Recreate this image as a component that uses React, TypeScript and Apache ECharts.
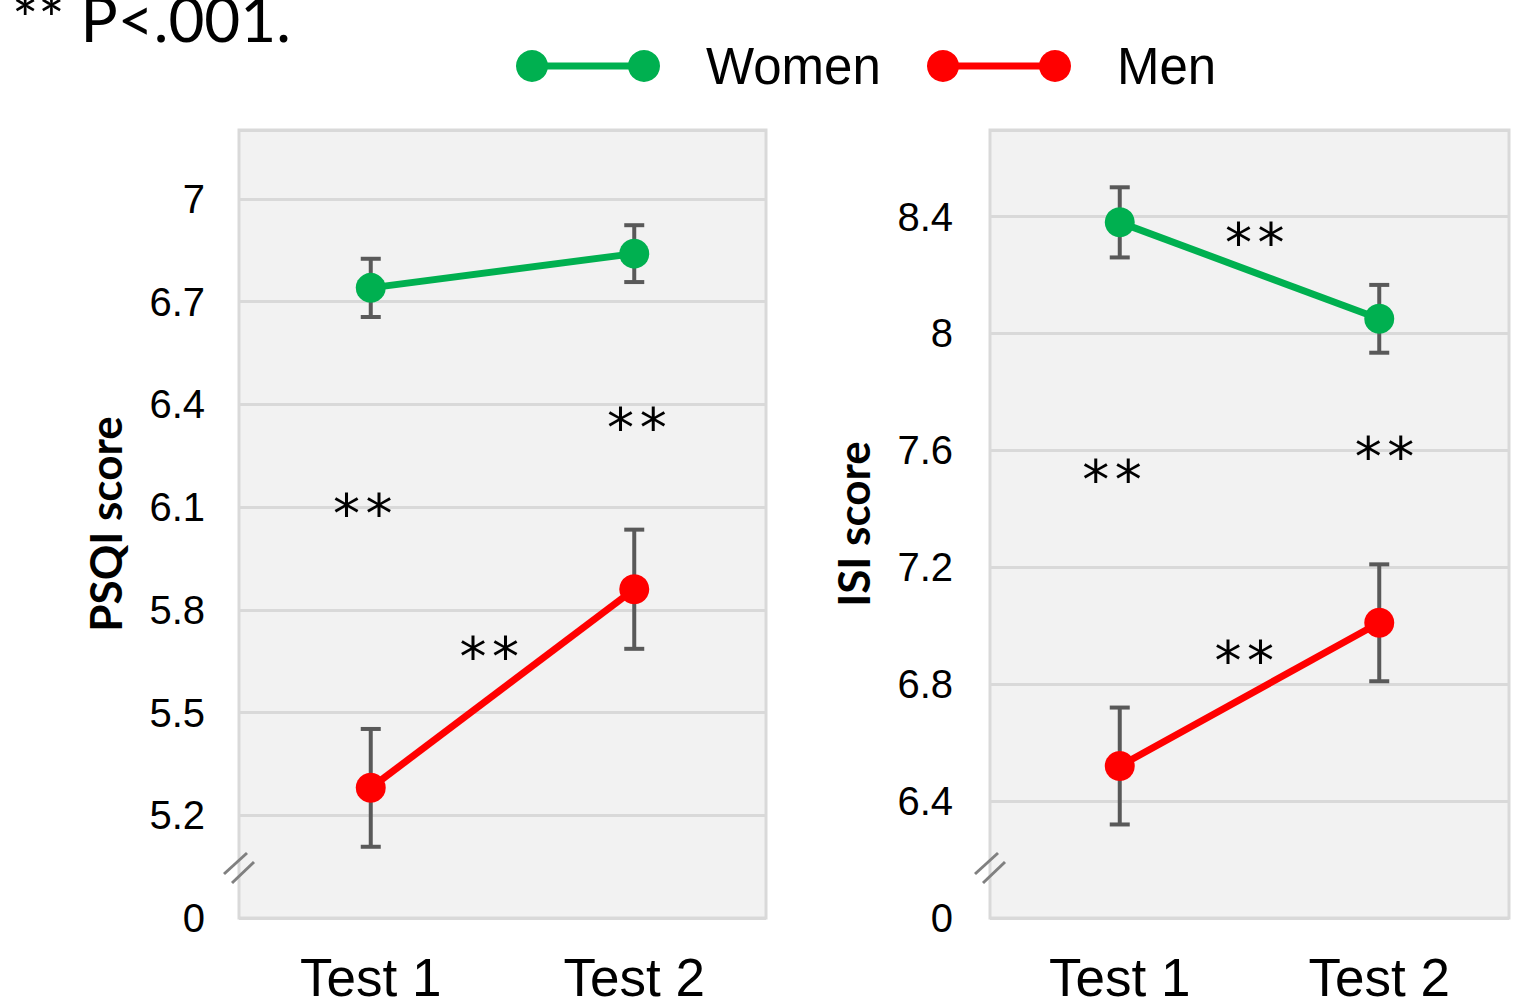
import React, { useEffect, useRef } from 'react';
import * as echarts from 'echarts';

// ---------- data ----------
const categories = ['Test 1', 'Test 2'];

// PSQI (left panel)
const psqiWomen = [6.74, 6.84];
const psqiWomenErr = [0.085, 0.083];
const psqiMen = [5.28, 5.86];
const psqiMenErr = [0.172, 0.174];
const psqiTickLabels = ['0', '5.2', '5.5', '5.8', '6.1', '6.4', '6.7', '7'];
// [category position (0 = Test 1, 1 = Test 2), value]
const psqiStars = [
  [-0.03, 6.1],
  [0.45, 5.68],
  [1.01, 6.35],
];

// ISI (right panel)
const isiWomen = [8.38, 8.05];
const isiWomenErr = [0.12, 0.116];
const isiMen = [6.52, 7.01];
const isiMenErr = [0.2, 0.2];
const isiTickLabels = ['0', '6.4', '6.8', '7.2', '7.6', '8', '8.4'];
const isiStars = [
  [-0.03, 7.52],
  [0.48, 6.9],
  [0.52, 8.33],
  [1.02, 7.6],
];

// broken axis: bottom step labelled 0, then regular steps
const psqiScale = { base: 4.9, step: 0.3, max: 7.67 };
const isiScale = { base: 6.0, step: 0.4, max: 6.74 };

const GREEN = '#00b050';
const RED = '#ff0000';
const GRID_COLOR = '#d9d9d9';
const ERR_COLOR = '#595959';

const toStep = (v: number, s: { base: number; step: number }) => (v - s.base) / s.step;

function lineSeries(name: string, values: number[], s: any, color: string, idx: number) {
  return {
    name,
    type: 'line',
    xAxisIndex: idx,
    yAxisIndex: idx,
    data: values.map((v) => toStep(v, s)),
    symbol: 'circle',
    symbolSize: 30,
    z: 5,
    itemStyle: { color },
    lineStyle: { color, width: 7 },
  };
}

function errSeries(values: number[], errs: number[], s: any, idx: number) {
  return {
    type: 'custom',
    xAxisIndex: idx,
    yAxisIndex: idx,
    z: 3,
    silent: true,
    encode: { x: 0, y: [1, 2] },
    data: values.map((v, i) => [i, toStep(v - errs[i], s), toStep(v + errs[i], s)]),
    renderItem: (params: any, api: any) => {
      const x = api.value(0);
      const pLo = api.coord([x, api.value(1)]);
      const pHi = api.coord([x, api.value(2)]);
      const w = 10;
      const st = { stroke: ERR_COLOR, lineWidth: 4 };
      return {
        type: 'group',
        children: [
          { type: 'line', shape: { x1: pLo[0], y1: pLo[1], x2: pHi[0], y2: pHi[1] }, style: st },
          { type: 'line', shape: { x1: pLo[0] - w, y1: pLo[1], x2: pLo[0] + w, y2: pLo[1] }, style: st },
          { type: 'line', shape: { x1: pHi[0] - w, y1: pHi[1], x2: pHi[0] + w, y2: pHi[1] }, style: st },
        ],
      };
    },
  };
}

function starSeries(stars: number[][], s: any, idx: number) {
  return {
    type: 'custom',
    xAxisIndex: idx,
    yAxisIndex: idx,
    z: 6,
    silent: true,
    encode: { x: 0, y: 1 },
    data: stars.map((p) => [0, toStep(p[1], s), p[0]]),
    renderItem: (params: any, api: any) => {
      const y = api.value(1);
      const f = api.value(2);
      const p0 = api.coord([0, y]);
      const p1 = api.coord([1, y]);
      const x = p0[0] + (p1[0] - p0[0]) * f;
      return {
        type: 'text',
        x,
        y: p0[1] + 6,
        style: {
          text: '**',
          fontSize: 54,
          fontFamily: 'DejaVu Sans Mono',
          fill: '#000',
          align: 'center',
          verticalAlign: 'middle',
        },
      };
    },
  };
}

function yAxis(labels: string[], s: any, idx: number, name: string, margin: number) {
  return {
    type: 'value',
    gridIndex: idx,
    min: 0,
    max: s.max,
    interval: 1,
    name,
    nameLocation: 'middle',
    nameGap: margin + 78,
    nameTextStyle: { fontSize: 44, fontWeight: 'bold', fontFamily: 'Lato', color: '#000' },
    axisLine: { show: false },
    axisTick: { show: false },
    splitLine: { lineStyle: { color: GRID_COLOR, width: 3 } },
    axisLabel: {
      fontSize: 40,
      color: '#000',
      fontFamily: 'Liberation Sans',
      margin,
      showMaxLabel: false,
      formatter: (v: number) => (Number.isInteger(v) ? labels[v] ?? '' : ''),
    },
  };
}

function xAxis(idx: number) {
  return {
    type: 'category',
    gridIndex: idx,
    data: categories,
    boundaryGap: true,
    axisLine: { show: false },
    axisTick: { show: false },
    splitLine: { show: false },
    axisLabel: { fontSize: 53, color: '#000', fontFamily: 'Liberation Sans', margin: 33 },
  };
}

function breakMark(cx: number, cy: number) {
  const st = { stroke: '#808080', lineWidth: 3 };
  return [
    { type: 'line', z: 10, shape: { x1: cx - 15, y1: cy + 6, x2: cx + 8, y2: cy - 15 }, style: st },
    { type: 'line', z: 10, shape: { x1: cx - 7, y1: cy + 15, x2: cx + 15, y2: cy - 6 }, style: st },
  ];
}

function legendItem(x: number, color: string, label: string) {
  return [
    { type: 'line', shape: { x1: x, y1: 66, x2: x + 112, y2: 66 }, style: { stroke: color, lineWidth: 7 } },
    { type: 'circle', shape: { cx: x, cy: 66, r: 16 }, style: { fill: color } },
    { type: 'circle', shape: { cx: x + 112, cy: 66, r: 16 }, style: { fill: color } },
    {
      type: 'text',
      x: x + 174,
      y: 66,
      style: { text: label, fontSize: 51, fontFamily: 'Liberation Sans', fill: '#000', verticalAlign: 'middle' },
    },
  ];
}

export default function App() {
  const ref = useRef<HTMLDivElement>(null);
  useEffect(() => {
    if (!ref.current) return;
    const chart = echarts.init(ref.current, undefined, { renderer: 'svg' });
    chart.setOption({
      animation: false,
      backgroundColor: '#ffffff',
      grid: [
        { left: 239, top: 130, width: 527, height: 788, show: true, backgroundColor: '#f2f2f2', borderColor: GRID_COLOR, borderWidth: 3 },
        { left: 990, top: 130, width: 519, height: 788, show: true, backgroundColor: '#f2f2f2', borderColor: GRID_COLOR, borderWidth: 3 },
      ],
      xAxis: [xAxis(0), xAxis(1)],
      yAxis: [yAxis(psqiTickLabels, psqiScale, 0, 'PSQI score', 34), yAxis(isiTickLabels, isiScale, 1, 'ISI score', 37)],
      series: [
        errSeries(psqiWomen, psqiWomenErr, psqiScale, 0),
        errSeries(psqiMen, psqiMenErr, psqiScale, 0),
        lineSeries('Women', psqiWomen, psqiScale, GREEN, 0),
        lineSeries('Men', psqiMen, psqiScale, RED, 0),
        starSeries(psqiStars, psqiScale, 0),
        errSeries(isiWomen, isiWomenErr, isiScale, 1),
        errSeries(isiMen, isiMenErr, isiScale, 1),
        lineSeries('Women', isiWomen, isiScale, GREEN, 1),
        lineSeries('Men', isiMen, isiScale, RED, 1),
        starSeries(isiStars, isiScale, 1),
      ],
      graphic: [
        {
          type: 'text',
          left: 12,
          top: -13,
          style: { text: '** P<.001.', fontSize: 62, lineHeight: 44, fontFamily: 'Lato', fill: '#000' },
        },
        ...legendItem(532, GREEN, 'Women'),
        ...legendItem(943, RED, 'Men'),
        ...breakMark(239, 868),
        ...breakMark(990, 868),
      ],
    });
    return () => chart.dispose();
  }, []);
  return <div ref={ref} style={{ position: 'fixed', left: 0, top: 0, width: 1537, height: 1006 }} />;
}
